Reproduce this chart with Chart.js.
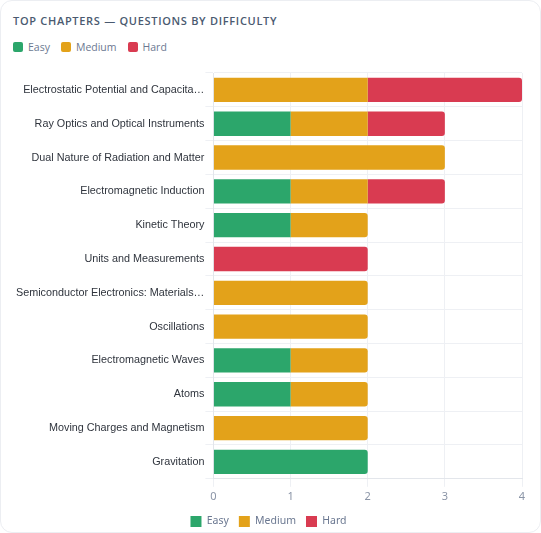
<!DOCTYPE html>
<html>
<head>
<meta charset="utf-8">
<script src="https://cdn.jsdelivr.net/npm/chart.js@4.4.1/dist/chart.umd.min.js"></script>
<style>
  html, body { margin: 0; padding: 0; background: #ffffff; }
  .card {
    position: relative;
    width: 541px;
    height: 533px;
    box-sizing: border-box;
    background: #fff;
    border: 1px solid #eceef2;
    border-radius: 12px;
    overflow: hidden;
    font-family: "Open Sans", "Noto Sans", sans-serif;
  }
  .card h3 {
    position: absolute;
    left: 12px;
    top: 12px;
    margin: 0;
    font-size: 11px;
    font-weight: 600;
    letter-spacing: 0.7px;
    color: #4a5a70;
  }
  .legend {
    position: absolute;
    left: 12px;
    top: 39px;
    display: flex;
    gap: 11px;
    font-size: 10.5px;
    color: #6b7891;
  }
  .legend span { display: flex; align-items: center; }
  .legend i {
    display: inline-block;
    width: 10px;
    height: 10px;
    border-radius: 2px;
    margin-right: 5px;
  }
  .chart-box {
    position: absolute;
    left: 14px;
    top: 63px;
    width: 515px;
    height: 473px;
  }
</style>
</head>
<body>
<div class="card">
  <h3>TOP CHAPTERS — QUESTIONS BY DIFFICULTY</h3>
  <div class="legend" id="legendTop"></div>
  <div class="chart-box"><canvas id="difficultyChart"></canvas></div>
</div>
<script>
const chapters = [
  "Electrostatic Potential and Capacitance",
  "Ray Optics and Optical Instruments",
  "Dual Nature of Radiation and Matter",
  "Electromagnetic Induction",
  "Kinetic Theory",
  "Units and Measurements",
  "Semiconductor Electronics: Materials, Devices and Simple Circuits",
  "Oscillations",
  "Electromagnetic Waves",
  "Atoms",
  "Moving Charges and Magnetism",
  "Gravitation"
];
const easy   = [0, 1, 0, 1, 1, 0, 0, 0, 1, 1, 0, 2];
const medium = [2, 1, 3, 1, 1, 0, 2, 2, 1, 1, 2, 0];
const hard   = [2, 1, 0, 1, 0, 2, 0, 0, 0, 0, 0, 0];

const levels = ["Easy", "Medium", "Hard"];
const colors = ["#2ca66b", "#e3a21a", "#d93b51"];
const xTicks = [0, 1, 2, 3, 4];

// legenda de cima (html)
const legendTop = document.getElementById("legendTop");
legendTop.innerHTML = levels.map((l, i) =>
  `<span><i style="background:${colors[i]}"></i>${l}</span>`).join("");

function encurtar(txt) {
  return txt.length > 36 ? txt.slice(0, 36) + "…" : txt;
}

const ctx = document.getElementById("difficultyChart").getContext("2d");
new Chart(ctx, {
  type: "bar",
  data: {
    labels: chapters,
    datasets: [easy, medium, hard].map((d, i) => ({
      label: levels[i],
      data: d,
      backgroundColor: colors[i],
      borderWidth: 0,
      borderRadius: 3
    }))
  },
  options: {
    indexAxis: "y",
    responsive: true,
    maintainAspectRatio: false,
    animation: false,
    layout: { padding: { top: 9, right: 8 } },
    scales: {
      x: {
        stacked: true,
        min: 0,
        max: 4,
        afterBuildTicks: axis => { axis.ticks = xTicks.map(v => ({ value: v })); },
        grid: { color: "#eef0f4" },
        border: { color: "#e3e6eb" },
        ticks: {
          color: "#8a94a6",
          font: { family: "'Noto Sans', sans-serif", size: 11 }
        }
      },
      y: {
        stacked: true,
        grid: { color: "#eef0f4" },
        border: { color: "#e3e6eb" },
        ticks: {
          padding: 1,
          color: "#2f343d",
          font: { family: "'Liberation Sans', Arial, sans-serif", size: 10.8 },
          callback: function (v) { return encurtar(this.getLabelForValue(v)); }
        }
      }
    },
    plugins: {
      legend: {
        position: "bottom",
        labels: {
          boxWidth: 11,
          boxHeight: 11,
          color: "#6b7891",
          font: { family: "'Noto Sans', sans-serif", size: 10.5 }
        }
      },
      tooltip: { enabled: false }
    }
  }
});
</script>
</body>
</html>
